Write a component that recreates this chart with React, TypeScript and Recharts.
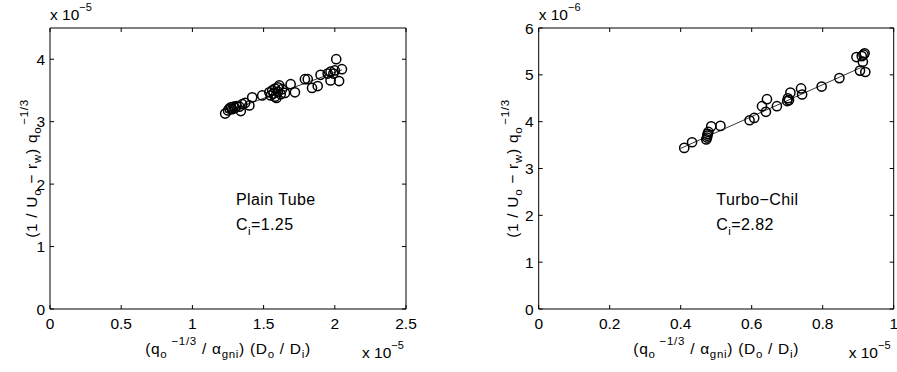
import React from 'react';
import { ScatterChart, Scatter, XAxis, YAxis } from 'recharts';

const FONT = '"Liberation Sans", Arial, Helvetica, sans-serif';

// Plain tube data (x in 1e-5, y in 1e-5)
const plainX = [1.23, 1.25, 1.26, 1.27, 1.28, 1.29, 1.30, 1.31, 1.33, 1.34, 1.35, 1.37, 1.40, 1.42, 1.49, 1.54, 1.55, 1.56, 1.57, 1.58, 1.58, 1.59, 1.60, 1.60, 1.61, 1.62, 1.63, 1.65, 1.69, 1.72, 1.79, 1.81, 1.84, 1.88, 1.90, 1.95, 1.97, 1.97, 1.99, 2.00, 2.01, 2.03, 2.05];
const plainY = [3.13, 3.18, 3.21, 3.23, 3.20, 3.24, 3.22, 3.25, 3.24, 3.17, 3.28, 3.30, 3.26, 3.39, 3.42, 3.47, 3.42, 3.50, 3.45, 3.40, 3.53, 3.38, 3.55, 3.48, 3.58, 3.44, 3.52, 3.46, 3.60, 3.47, 3.68, 3.68, 3.54, 3.57, 3.75, 3.77, 3.80, 3.66, 3.77, 3.82, 4.00, 3.65, 3.84];
const plainFitX = [1.23, 2.05];
const plainFitY = [3.15, 3.83];

// Turbo-Chil data (x in 1e-5, y in 1e-6)
const turboX = [0.410, 0.432, 0.472, 0.474, 0.475, 0.476, 0.478, 0.486, 0.512, 0.594, 0.607, 0.629, 0.640, 0.643, 0.671, 0.700, 0.702, 0.705, 0.709, 0.739, 0.742, 0.797, 0.847, 0.895, 0.905, 0.910, 0.913, 0.915, 0.918, 0.920];
const turboY = [3.44, 3.56, 3.62, 3.66, 3.70, 3.74, 3.78, 3.90, 3.91, 4.03, 4.08, 4.33, 4.21, 4.48, 4.33, 4.44, 4.50, 4.46, 4.62, 4.71, 4.58, 4.75, 4.93, 5.38, 5.09, 5.40, 5.28, 5.43, 5.46, 5.06];
const turboFitX = [0.40, 0.915];
const turboFitY = [3.43, 5.18];

const leftXTicks = [0, 0.5, 1, 1.5, 2, 2.5];
const leftYTicks = [0, 1, 2, 3, 4];
const rightXTicks = [0, 0.2, 0.4, 0.6, 0.8, 1];
const rightYTicks = [0, 1, 2, 3, 4, 5, 6];

const zip = (xs: number[], ys: number[]) => xs.map((x, i) => ({ x, y: ys[i] }));

const TL = 4;

const BottomTick = (p: any) => (
  <g>
    <line x1={p.x} x2={p.x} y1={p.y} y2={p.y - TL} stroke="#000" strokeWidth={1} />
    <text x={p.x} y={p.y + 20} textAnchor="middle" fontSize={15.5} fontFamily={FONT} fill="#000">
      {String(p.payload.value)}
    </text>
  </g>
);
const TopTick = (p: any) => (
  <line x1={p.x} x2={p.x} y1={p.y} y2={p.y + TL} stroke="#000" strokeWidth={1} />
);
const LeftTick = (p: any) => (
  <g>
    <line x1={p.x} x2={p.x + TL} y1={p.y} y2={p.y} stroke="#000" strokeWidth={1} />
    <text x={p.x - 5} y={p.y} dy="0.36em" textAnchor="end" fontSize={15.5} fontFamily={FONT} fill="#000">
      {String(p.payload.value)}
    </text>
  </g>
);
const RightTick = (p: any) => (
  <line x1={p.x} x2={p.x - TL} y1={p.y} y2={p.y} stroke="#000" strokeWidth={1} />
);

const Circle = (p: any) => (
  <circle cx={p.cx} cy={p.cy} r={4.6} fill="none" stroke="#000" strokeWidth={1.5} />
);
const NoShape = () => <g />;

type PanelProps = {
  left: number;
  width: number;
  marginLeft: number;
  marginRight: number;
  data: { x: number; y: number }[];
  fit: { x: number; y: number }[];
  xDomain: [number, number];
  yDomain: [number, number];
  xTicks: number[];
  yTicks: number[];
};

function Panel({ left, width, marginLeft, marginRight, data, fit, xDomain, yDomain, xTicks, yTicks }: PanelProps) {
  const axisLine = { stroke: '#000', strokeWidth: 1 };
  return (
    <div style={{ position: 'absolute', left, top: 0 }}>
      <ScatterChart width={width} height={372} margin={{ top: 27, right: marginRight, bottom: 33, left: marginLeft }}>
        <XAxis xAxisId="b" dataKey="x" type="number" orientation="bottom" domain={xDomain} ticks={xTicks} interval={0}
          allowDataOverflow height={30} tickSize={0} tickMargin={0} tickLine={false} axisLine={axisLine} tick={<BottomTick />} />
        <XAxis xAxisId="t" dataKey="x" type="number" orientation="top" domain={xDomain} ticks={xTicks} interval={0}
          allowDataOverflow height={1} tickSize={0} tickMargin={0} tickLine={false} axisLine={axisLine} tick={<TopTick />} />
        <YAxis yAxisId="l" dataKey="y" type="number" orientation="left" domain={yDomain} ticks={yTicks} interval={0}
          allowDataOverflow width={40} tickSize={0} tickMargin={0} tickLine={false} axisLine={axisLine} tick={<LeftTick />} />
        <YAxis yAxisId="r" dataKey="y" type="number" orientation="right" domain={yDomain} ticks={yTicks} interval={0}
          allowDataOverflow width={1} tickSize={0} tickMargin={0} tickLine={false} axisLine={axisLine} tick={<RightTick />} />
        <Scatter xAxisId="t" yAxisId="r" data={fit} shape={NoShape} isAnimationActive={false} />
        <Scatter xAxisId="b" yAxisId="l" data={fit} line={{ stroke: '#000', strokeWidth: 0.8 }} shape={NoShape} isAnimationActive={false} />
        <Scatter xAxisId="b" yAxisId="l" data={data} shape={Circle} isAnimationActive={false} />
      </ScatterChart>
    </div>
  );
}

const SUB = 11.5;
const SUP = 11.5;

function YLabel({ x, y }: { x: number; y: number }) {
  return (
    <text x={x} y={y} transform={`rotate(-90 ${x} ${y})`} textAnchor="middle" fontSize={15.5} fontFamily={FONT} fill="#000" letterSpacing={0.7}>
      (1 / U<tspan fontSize={SUB} dy={4}>o</tspan>
      <tspan dy={-4}> − r</tspan>
      <tspan fontSize={SUB} dy={4}>w</tspan>
      <tspan dy={-4}>) q</tspan>
      <tspan fontSize={SUB} dy={4}>o</tspan>
      <tspan fontSize={SUP} dy={-13} dx={2}>−1/3</tspan>
    </text>
  );
}

function XLabel({ x, y }: { x: number; y: number }) {
  return (
    <text x={x} y={y} textAnchor="middle" fontSize={15.5} fontFamily={FONT} fill="#000" letterSpacing={0.7}>
      (q<tspan fontSize={SUB} dy={4}>o</tspan>
      <tspan fontSize={SUP} dy={-13} dx={4}>−1/3</tspan>
      <tspan dy={9}> / α</tspan>
      <tspan fontSize={SUB} dy={4}>gni</tspan>
      <tspan dy={-4}>) (D</tspan>
      <tspan fontSize={SUB} dy={4}>o</tspan>
      <tspan dy={-4}> / D</tspan>
      <tspan fontSize={SUB} dy={4}>i</tspan>
      <tspan dy={-4}>)</tspan>
    </text>
  );
}

function Exponent({ x, y, exp }: { x: number; y: number; exp: string }) {
  return (
    <text x={x} y={y} fontSize={15.5} fontFamily={FONT} fill="#000">
      x 10<tspan fontSize={11} dy={-9}>{exp}</tspan>
    </text>
  );
}

function Note({ x, y, title, ci }: { x: number; y: number; title: string; ci: string }) {
  return (
    <g>
      <text x={x} y={y} fontSize={16} fontFamily={FONT} fill="#000" letterSpacing={0.4}>{title}</text>
      <text x={x} y={y + 25} fontSize={16} fontFamily={FONT} fill="#000" letterSpacing={0.4}>
        C<tspan fontSize={11.5} dy={5}>i</tspan>
        <tspan dy={-5}>={ci}</tspan>
      </text>
    </g>
  );
}

export default function App() {
  return (
    <div style={{ position: 'absolute', left: 0, top: 0, width: 897, height: 372, background: '#fff', overflow: 'hidden' }}>
      <Panel left={0} width={448} marginLeft={10} marginRight={41}
        data={zip(plainX, plainY)} fit={zip(plainFitX, plainFitY)}
        xDomain={[0, 2.5]} yDomain={[0, 4.5]} xTicks={leftXTicks} yTicks={leftYTicks} />
      <Panel left={448} width={449} marginLeft={50.7} marginRight={2.3}
        data={zip(turboX, turboY)} fit={zip(turboFitX, turboFitY)}
        xDomain={[0, 1]} yDomain={[0, 6]} xTicks={rightXTicks} yTicks={rightYTicks} />
      <svg width={897} height={372} style={{ position: 'absolute', left: 0, top: 0, pointerEvents: 'none' }}>
        <Exponent x={50} y={20} exp="−5" />
        <Exponent x={362} y={358} exp="−5" />
        <YLabel x={37} y={168.5} />
        <XLabel x={228} y={354} />
        <Note x={236} y={205} title="Plain Tube" ci="1.25" />

        <Exponent x={538.7} y={20} exp="−6" />
        <Exponent x={848.7} y={358} exp="−5" />
        <YLabel x={518} y={168.5} />
        <XLabel x={716.2} y={354} />
        <Note x={716.3} y={205} title="Turbo−Chil" ci="2.82" />
      </svg>
    </div>
  );
}
